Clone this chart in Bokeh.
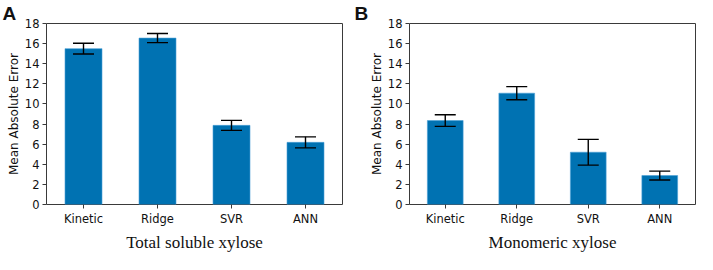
from bokeh.plotting import figure
from bokeh.models import ColumnDataSource, Whisker, TeeHead
from bokeh.layouts import row
from bokeh.embed import file_html
from bokeh.resources import INLINE

models = ["Kinetic", "Ridge", "SVR", "ANN"]
total_mae = [15.5, 16.55, 7.87, 6.18]
total_err = [0.53, 0.45, 0.50, 0.55]
mono_mae = [8.35, 11.07, 5.2, 2.88]
mono_err = [0.58, 0.65, 1.28, 0.44]
y_ticks = [0, 2, 4, 6, 8, 10, 12, 14, 16, 18]
titles = ["Total soluble xylose", "Monomeric xylose"]
panel_letters = ["A", "B"]

BAR = "#0072B2"
FRAME = "#3a3a3a"
H = 254
TOP = 19
BOTTOM = 50


def make_panel(vals, errs, xlabel, letter, width, bl, br):
    src = ColumnDataSource(dict(
        m=models, v=vals,
        lo=[v - e for v, e in zip(vals, errs)],
        hi=[v + e for v, e in zip(vals, errs)],
    ))
    p = figure(x_range=models, y_range=(0, 18), width=width, height=H,
               output_backend="svg", toolbar_location=None,
               min_border_left=bl, min_border_right=br,
               min_border_top=TOP, min_border_bottom=BOTTOM,
               title=letter)
    p.title.text_font = "Liberation Sans"
    p.title.text_font_style = "bold"
    p.title.text_font_size = "19px"
    p.title.text_color = "#111111"
    p.title.align = "left"
    p.title.offset = -(bl - 2)
    p.title.standoff = 0
    p.title.text_line_height = 0.9

    p.vbar(x="m", top="v", width=0.5, source=src, fill_color=BAR,
           line_color="#4a9fd6", line_width=0.6)
    w = Whisker(base="m", lower="lo", upper="hi", source=src,
                line_color="black", line_width=1.4, level="overlay",
                upper_head=TeeHead(size=21, line_color="black", line_width=1.4),
                lower_head=TeeHead(size=21, line_color="black", line_width=1.4))
    p.add_layout(w)
    p.grid.visible = False
    p.outline_line_color = FRAME
    p.outline_line_width = 1
    p.background_fill_color = "white"
    p.border_fill_color = "white"
    p.x_range.range_padding = 0

    p.yaxis.ticker = y_ticks
    p.yaxis.axis_label = "Mean Absolute Error"
    p.yaxis.axis_label_text_font = "DejaVu Sans"
    p.yaxis.axis_label_text_font_style = "normal"
    p.yaxis.axis_label_text_font_size = "12px"
    p.yaxis.axis_label_standoff = 1

    p.xaxis.axis_label = xlabel
    p.xaxis.axis_label_text_font = "Liberation Serif"
    p.xaxis.axis_label_text_font_style = "normal"
    p.xaxis.axis_label_text_font_size = "17px"
    p.xaxis.axis_label_standoff = 4

    for ax in (p.xaxis, p.yaxis):
        ax.axis_line_color = None
        ax.major_tick_line_color = FRAME
        ax.major_tick_out = 4
        ax.major_tick_in = 0
        ax.minor_tick_line_color = None
        ax.major_label_text_font = "DejaVu Sans"
        ax.major_label_text_font_size = "11.5px"
        ax.major_label_text_color = "#111111"
        ax.axis_label_text_color = "#111111"
        ax.major_label_standoff = 3
    return p


pa = make_panel(total_mae, total_err, titles[0], panel_letters[0], 352, 46, 10)
pb = make_panel(mono_mae, mono_err, titles[1], panel_letters[1], 345, 57, 2)

layout = row(pa, pb)
open("out.html", "w").write(file_html(layout, INLINE))
